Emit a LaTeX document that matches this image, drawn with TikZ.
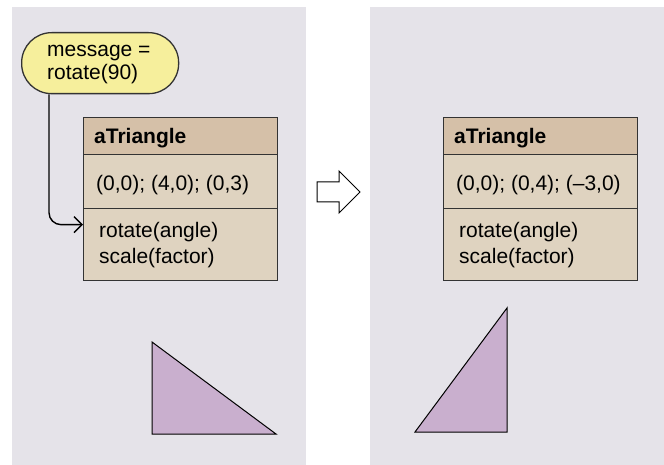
\documentclass[tikz,border=0pt]{standalone}
\usepackage{fontspec}
\setmainfont{Liberation Sans}
\usetikzlibrary{arrows.meta}
\definecolor{panelc}{HTML}{E5E3E9}
\definecolor{yellowc}{HTML}{F6EF9C}
\definecolor{headc}{HTML}{D5C0A8}
\definecolor{bodyc}{HTML}{DFD3C0}
\definecolor{tric}{HTML}{C9AFCE}
\definecolor{linec}{HTML}{333333}
\tikzset{
  panel/.style={fill=panelc, draw=none},
  sect/.style={draw=linec, line width=1.3pt, rectangle, inner sep=0pt, minimum width=194pt, anchor=north west},
  headsec/.style={sect, fill=headc, minimum height=37pt},
  attrsec/.style={sect, fill=bodyc, minimum height=54pt},
  methsec/.style={sect, fill=bodyc, minimum height=72pt},
  txt/.style={anchor=base west, inner sep=0pt, font=\fontsize{21}{26}\selectfont},
  msgbox/.style={draw=linec, line width=1.3pt, fill=yellowc, rounded corners=30pt, minimum width=157pt, minimum height=61pt, inner sep=0pt, anchor=north west},
  tri/.style={fill=tric, draw=black, line width=1pt, line join=miter},
}
\begin{document}
\begin{tikzpicture}[x=1pt,y=-1pt]
\useasboundingbox (0,0) rectangle (664,465);
% panels
\fill[panel] (12,7) rectangle (306,465);
\fill[panel] (370,7) rectangle (664,465);
% left object box
\node[headsec] (h1) at (83,117) {};
\node[attrsec] (a1) at (83,154) {};
\node[methsec] (m1) at (83,208) {};
\node[txt] (t1) at (94,144) {\bfseries aTriangle};
\node[txt] (t2) at (96,191) {(0,0); (4,0); (0,3)};
\node[txt] (t3) at (99,237) {rotate(angle)};
\node[txt] (t4) at (99,263) {scale(factor)};
% right object box
\node[headsec] (h2) at (443,117) {};
\node[attrsec] (a2) at (443,154) {};
\node[methsec] (m2) at (443,208) {};
\node[txt] (u1) at (454,144) {\bfseries aTriangle};
\node[txt] (u2) at (456,191) {(0,0); (0,4); (--3,0)};
\node[txt] (u3) at (459,237) {rotate(angle)};
\node[txt] (u4) at (459,263) {scale(factor)};
% message
\node[msgbox] (msg) at (21,32) {};
\node[txt] (mt1) at (47,57) {message =};
\node[txt] (mt2) at (47,80) {rotate(90)};
\draw[line width=1.4pt, rounded corners=12pt, -{Straight Barb[length=8pt,width=16pt,line width=1.4pt]}]
  ([xshift=28pt]msg.south west) |- ([yshift=20pt]m1.west);
% block arrow
\draw[line width=1pt, fill=white, line join=miter]
  (317,182) -- (339,182) -- (339,171) -- (360,192) -- (339,213) -- (339,202) -- (317,202) -- cycle;
% triangles
\draw[tri] (152,342) -- (152,434) -- (276,434) -- cycle;
\draw[tri] (415,432) -- (507,308) -- (507,432) -- cycle;
\end{tikzpicture}
\end{document}
